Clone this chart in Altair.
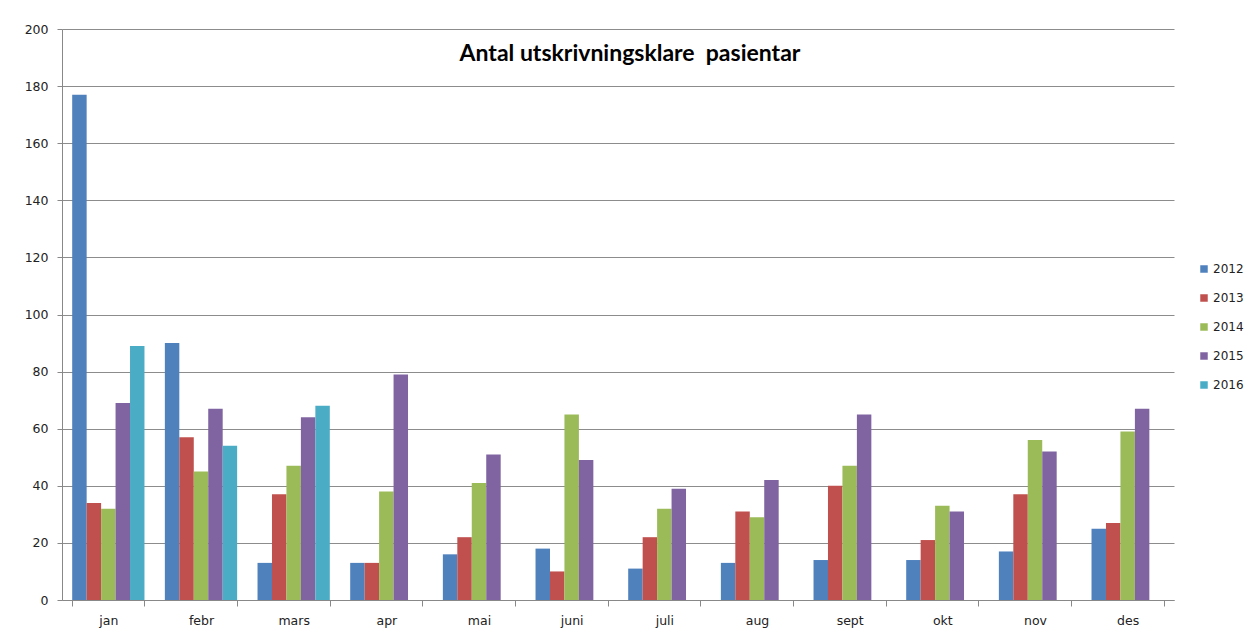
import altair as alt
import pandas as pd

months = ["jan", "febr", "mars", "apr", "mai", "juni", "juli", "aug", "sept", "okt", "nov", "des"]
years = ["2012", "2013", "2014", "2015", "2016"]
v2012 = [177, 90, 13, 13, 16, 18, 11, 13, 14, 14, 17, 25]
v2013 = [34, 57, 37, 13, 22, 10, 22, 31, 40, 21, 37, 27]
v2014 = [32, 45, 47, 38, 41, 65, 32, 29, 47, 33, 56, 59]
v2015 = [69, 67, 64, 79, 51, 49, 39, 42, 65, 31, 52, 67]
v2016 = [89, 54, 68, None, None, None, None, None, None, None, None, None]
colors = ["#4F81BD", "#C0504D", "#9BBB59", "#8064A2", "#4BACC6"]

rows = []
for yr, vals in zip(years, [v2012, v2013, v2014, v2015, v2016]):
    for m, v in zip(months, vals):
        if v is not None:
            rows.append({"month": m, "year": yr, "value": v})
df = pd.DataFrame(rows)

font = "DejaVu Sans"

chart = alt.Chart(df).mark_bar().encode(
    x=alt.X("month:N", sort=months, title=None,
            scale=alt.Scale(paddingInner=0.22, paddingOuter=0.11),
            axis=alt.Axis(labelAngle=0, tickBand="extent", tickSize=6, tickColor="#888888",
                          domainColor="#888888", labelFont=font, labelFontSize=12.5,
                          labelColor="#222222", labelPadding=8, grid=False)),
    xOffset=alt.XOffset("year:N", sort=years, scale=alt.Scale(domain=years, paddingInner=0, paddingOuter=0)),
    y=alt.Y("value:Q", title=None,
            scale=alt.Scale(domain=[0, 200], nice=False),
            axis=alt.Axis(values=list(range(0, 201, 20)), tickSize=5, tickColor="#888888",
                          domainColor="#888888", gridColor="#8c8c8c", labelFont=font,
                          labelFontSize=12.5, labelColor="#222222", labelPadding=9)),
    color=alt.Color("year:N", sort=years,
                    scale=alt.Scale(domain=years, range=colors),
                    legend=alt.Legend(title=None, orient="none", legendX=1136, legendY=234,
                                      symbolType="square", symbolSize=56, symbolStrokeWidth=0,
                                      labelFont=font, labelFontSize=12, labelColor="#222222",
                                      rowPadding=17, labelOffset=3)),
).properties(
    width=1112,
    height=571,
    title=alt.TitleParams("Antal utskrivningsklare\u00a0 pasientar", font="Lato", fontSize=23,
                          fontWeight="bold", color="#000000", anchor="middle", frame="group",
                          offset=-43, dx=12),
    autosize=alt.AutoSizeParams(type="none"),
    padding={"left": 54, "top": 21, "right": 70, "bottom": 32},
).configure_view(stroke=None)

chart.save("out.html", embed_options={"renderer": "svg", "actions": False})
